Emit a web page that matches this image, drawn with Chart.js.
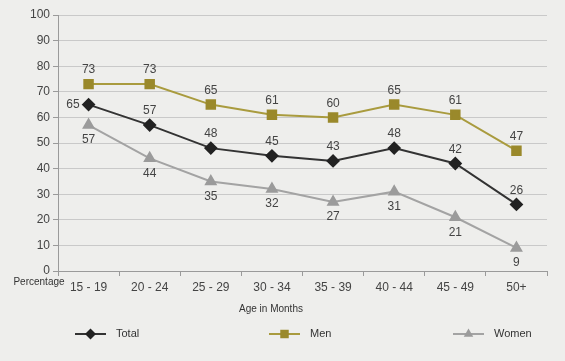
<!DOCTYPE html>
<html>
<head>
<meta charset="utf-8">
<script src="https://cdn.jsdelivr.net/npm/chart.js@4/dist/chart.umd.min.js"></script>
<style>
  html, body { margin: 0; padding: 0; background: #eeeeec; }
  #wrap { width: 565px; height: 361px; position: relative; }
</style>
</head>
<body>
<div id="wrap"><canvas id="c" width="565" height="361"></canvas></div>
<script>
// Age groups on the x axis
const ageGroups = ['15 - 19', '20 - 24', '25 - 29', '30 - 34', '35 - 39', '40 - 44', '45 - 49', '50+'];
// Percentages by group
const totalValues = [65, 57, 48, 45, 43, 48, 42, 26];
const menValues   = [73, 73, 65, 61, 60, 65, 61, 47];
const womenValues = [57, 44, 35, 32, 27, 31, 21, 9];
// Y axis ticks
const yTicks = [0, 10, 20, 30, 40, 50, 60, 70, 80, 90, 100];

const FONT = '"Liberation Sans", Arial, sans-serif';
const TEXT = '#444';

// Data labels next to each point; placement per dataset (optionally per point)
const valueLabels = {
  id: 'valueLabels',
  afterDatasetsDraw(chart) {
    const ctx = chart.ctx;
    ctx.save();
    ctx.font = '12px ' + FONT;
    ctx.fillStyle = TEXT;
    chart.data.datasets.forEach((ds, i) => {
      const meta = chart.getDatasetMeta(i);
      meta.data.forEach((pt, j) => {
        const place = (ds.labelPlace && ds.labelPlace[j]) || ds.labelDefault;
        let x = pt.x, y = pt.y;
        ctx.textBaseline = 'middle';
        ctx.textAlign = 'center';
        if (place === 'above') y -= 14;
        else if (place === 'below') y += 15;
        else if (place === 'left') { x -= 9; ctx.textAlign = 'right'; }
        ctx.fillText(String(ds.data[j]), x, y);
      });
    });
    ctx.restore();
  }
};

function marker(ctx, style, x, y, r) {
  ctx.beginPath();
  if (style === 'rectRot') {
    ctx.moveTo(x, y - r); ctx.lineTo(x + r, y); ctx.lineTo(x, y + r); ctx.lineTo(x - r, y);
  } else if (style === 'rect') {
    const s = r * Math.SQRT1_2;
    ctx.rect(x - s, y - s, 2 * s, 2 * s);
  } else {
    ctx.moveTo(x, y - r); ctx.lineTo(x + r * 0.866, y + r * 0.5); ctx.lineTo(x - r * 0.866, y + r * 0.5);
  }
  ctx.closePath();
  ctx.fill();
}

// Axis captions and the legend row underneath the plot
const extras = {
  id: 'extras',
  afterDraw(chart) {
    const ctx = chart.ctx;
    const area = chart.chartArea;
    ctx.save();
    ctx.fillStyle = '#333';
    ctx.font = '10px ' + FONT;
    ctx.textBaseline = 'middle';
    ctx.textAlign = 'center';
    ctx.fillText('Percentage', 39, area.bottom + 11);
    ctx.fillText('Age in Months', 271, area.bottom + 38);

    const items = [{ x0: 75 }, { x0: 269 }, { x0: 453 }];
    const ly = 334;
    chart.data.datasets.forEach((ds, i) => {
      const x0 = items[i].x0, x1 = x0 + 31, xm = (x0 + x1) / 2;
      ctx.strokeStyle = ds.borderColor;
      ctx.lineWidth = 2;
      ctx.beginPath(); ctx.moveTo(x0, ly); ctx.lineTo(x1, ly); ctx.stroke();
      ctx.fillStyle = ds.pointBackgroundColor;
      marker(ctx, ds.pointStyle, xm, ly, ds.pointRadius);
      ctx.fillStyle = '#333';
      ctx.font = '11px ' + FONT;
      ctx.textAlign = 'left';
      ctx.fillText(ds.label, x1 + 10, ly);
    });
    ctx.restore();
  }
};

new Chart(document.getElementById('c'), {
  type: 'line',
  data: {
    labels: ageGroups,
    datasets: [
      {
        label: 'Total', data: totalValues,
        borderColor: '#333333', backgroundColor: '#222222',
        pointBackgroundColor: '#222222', pointBorderColor: '#222222',
        pointStyle: 'rectRot', pointRadius: 5.5, borderWidth: 2,
        labelDefault: 'above', labelPlace: ['left']
      },
      {
        label: 'Men', data: menValues,
        borderColor: '#a99b3e', backgroundColor: '#9a892b',
        pointBackgroundColor: '#9a892b', pointBorderColor: '#9a892b',
        pointStyle: 'rect', pointRadius: 6, borderWidth: 2,
        labelDefault: 'above'
      },
      {
        label: 'Women', data: womenValues,
        borderColor: '#a3a3a3', backgroundColor: '#9b9b9b',
        pointBackgroundColor: '#9b9b9b', pointBorderColor: '#9b9b9b',
        pointStyle: 'triangle', pointRadius: 5.5, borderWidth: 2,
        labelDefault: 'below'
      }
    ]
  },
  options: {
    responsive: false,
    animation: false,
    layout: { padding: { left: 0, right: 18, top: 15, bottom: 0 } },
    plugins: { legend: { display: false }, tooltip: { enabled: false }, title: { display: false } },
    elements: { line: { tension: 0 } },
    scales: {
      x: {
        offset: true,
        grid: { offset: true, drawOnChartArea: false, tickLength: 5, color: '#9a9a9a', lineWidth: 1 },
        border: { color: '#9a9a9a', width: 1 },
        ticks: { color: TEXT, font: { family: FONT, size: 12 }, padding: 4, maxRotation: 0 },
        afterFit(s) { s.height = 90; }
      },
      y: {
        min: 0, max: 100,
        afterBuildTicks(s) { s.ticks = yTicks.map(v => ({ value: v })); },
        grid: { color: '#c9c9c9', lineWidth: 1, tickLength: 5, tickColor: '#9a9a9a' },
        border: { color: '#9a9a9a', width: 1 },
        ticks: { color: TEXT, font: { family: FONT, size: 12 }, padding: 3 },
        afterFit(s) { s.width = 58; }
      }
    }
  },
  plugins: [valueLabels, extras]
});
</script>
</body>
</html>
